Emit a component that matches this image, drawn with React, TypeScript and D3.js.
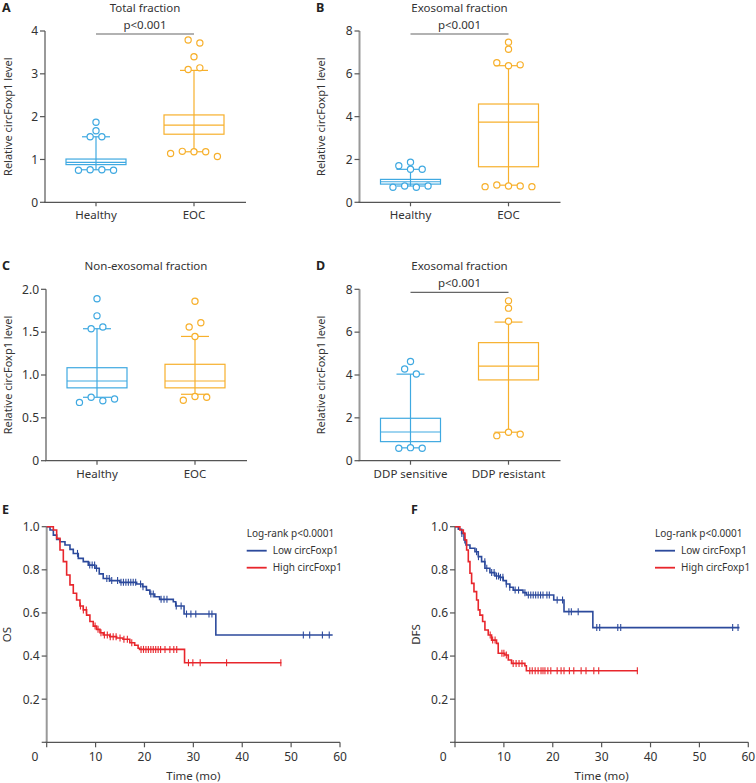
import React from 'react';
import * as d3 from 'd3';

const FONT = '"Noto Sans", "DejaVu Sans", sans-serif';
const BOX_BLUE = '#3fa9e1';
const BOX_ORANGE = '#f7b02c';
const KM_BLUE = '#2c4a9c';
const KM_RED = '#e8262c';
const TEXT = '#333333';
const AXIS_Y = '#999999';
const AXIS_X = '#555555';

// ---------- Box-plot panels (A-D) ----------
const panelTitles = ['Total fraction', 'Exosomal fraction', 'Non-exosomal fraction', 'Exosomal fraction'];
const panelLetters = ['A', 'B', 'C', 'D'];
const categoriesHealthy = ['Healthy', 'EOC'];
const categoriesDdp = ['DDP sensitive', 'DDP resistant'];
const pValueText = 'p<0.001';
const yAxisTitle = 'Relative circFoxp1 level';

const ticksAB = [0, 1, 2, 3, 4];
const ticksB = [0, 2, 4, 6, 8];
const ticksC = [0, 0.5, 1.0, 1.5, 2.0];

// box stats: [whiskerLow, q1, median, q3, whiskerHigh]
const totalHealthyBox = [0.76, 0.88, 0.93, 1.01, 1.53];
const totalEocBox = [1.18, 1.59, 1.80, 2.04, 3.08];
const totalHealthyPts = [1.87, 1.67, 1.53, 1.53, 0.75, 0.76, 0.76, 0.75];
const totalEocPts = [3.79, 3.72, 3.40, 3.10, 3.14, 1.14, 1.19, 1.18, 1.18, 1.07];

const exoHealthyBox = [0.76, 0.85, 0.96, 1.07, 1.54];
const exoEocBox = [0.80, 1.66, 3.74, 4.59, 6.38];
const exoHealthyPts = [1.87, 1.71, 1.54, 1.54, 0.70, 0.76, 0.70, 0.76];
const exoEocPts = [7.48, 7.15, 6.52, 6.38, 6.42, 0.73, 0.81, 0.76, 0.76, 0.73];

const nonHealthyBox = [0.74, 0.85, 0.93, 1.085, 1.54];
const nonEocBox = [0.775, 0.85, 0.93, 1.125, 1.45];
const nonHealthyPts = [1.89, 1.69, 1.54, 1.56, 0.68, 0.74, 0.70, 0.72];
const nonEocPts = [1.86, 1.56, 1.61, 1.45, 0.705, 0.75, 0.74];

const ddpSensBox = [0.60, 0.89, 1.34, 1.98, 4.04];
const ddpResBox = [1.33, 3.77, 4.41, 5.51, 6.47];
const ddpSensPts = [4.63, 4.28, 4.05, 0.58, 0.61, 0.58];
const ddpResPts = [7.46, 7.12, 6.51, 1.17, 1.33, 1.24];

// ---------- Kaplan-Meier panels (E-F) ----------
const kmLegendTitle = 'Log-rank p<0.0001';
const kmSeriesNames = ['Low circFoxp1', 'High circFoxp1'];
const kmXTicks = [10, 20, 30, 40, 50, 60];
const kmYTicks = [0.2, 0.4, 0.6, 0.8, 1.0];
const kmXTitle = 'Time (mo)';

const osLowT = [0, 0.68, 1.36, 2.04, 2.72, 3.74, 4.76, 5.44, 6.46, 7.48, 8.5, 9.86, 10.75, 11.56, 12.9, 14.97, 18.4, 19.6, 20.4, 21.1, 22.1, 23.1, 25.9, 26.4, 28.1, 34.6];
const osLowS = [1.0, 0.985, 0.961, 0.941, 0.93, 0.915, 0.895, 0.876, 0.853, 0.838, 0.822, 0.807, 0.781, 0.760, 0.750, 0.742, 0.734, 0.722, 0.706, 0.688, 0.675, 0.663, 0.652, 0.632, 0.595, 0.498];
const osLowEnd = 58.5;
const osLowCensor = [6.3, 8.8, 9.3, 9.8, 10.2, 12.3, 12.8, 13.3, 14.5, 15.2, 15.7, 16.2, 16.7, 17.2, 17.7, 18.2, 19.2, 19.7, 21.3, 21.8, 23.4, 24.0, 24.6, 26.5, 27.5, 28.6, 29.5, 30.5, 33.2, 33.8, 52.5, 53.8, 56.4, 57.8];

const osHighT = [0, 1.36, 2.04, 2.72, 3.40, 4.08, 4.76, 5.44, 6.12, 6.80, 7.48, 8.16, 8.84, 9.52, 10.2, 10.9, 11.56, 12.9, 14.3, 15.6, 17.0, 18.0, 18.7, 19.0, 28.2];
const osHighS = [1.0, 0.985, 0.946, 0.892, 0.838, 0.776, 0.730, 0.691, 0.660, 0.632, 0.614, 0.590, 0.560, 0.539, 0.524, 0.508, 0.498, 0.490, 0.484, 0.478, 0.462, 0.450, 0.436, 0.431, 0.369];
const osHighEnd = 48.0;
const osHighCensor = [6.9, 7.5, 8.1, 9.9, 10.5, 11.1, 11.8, 12.4, 13.0, 13.6, 14.2, 15.0, 15.8, 16.5, 17.4, 19.3, 19.8, 20.3, 20.8, 21.3, 21.8, 22.3, 22.8, 23.3, 24.2, 25.2, 26.0, 26.6, 29.0, 29.9, 31.4, 36.8, 47.9];

const dfsLowT = [0, 0.68, 1.36, 1.84, 2.24, 3.06, 4.08, 4.76, 5.44, 6.12, 7.14, 8.16, 9.18, 9.86, 10.5, 11.2, 11.9, 13.9, 14.6, 20.2, 22.3, 28.2];
const dfsLowS = [1.0, 0.988, 0.969, 0.938, 0.915, 0.900, 0.884, 0.861, 0.838, 0.807, 0.787, 0.771, 0.765, 0.750, 0.734, 0.719, 0.706, 0.694, 0.683, 0.660, 0.606, 0.532];
const dfsLowEnd = 58.2;
const dfsLowCensor = [1.4, 2.0, 4.4, 4.8, 6.1, 6.5, 7.5, 8.0, 8.5, 8.9, 9.3, 9.8, 10.5, 11.2, 12.3, 13.0, 14.3, 15.0, 15.5, 16.0, 16.5, 17.0, 17.5, 18.0, 18.8, 19.3, 20.9, 22.0, 23.3, 23.8, 25.2, 29.0, 29.6, 33.3, 33.9, 56.8, 57.9];

const dfsHighT = [0, 1.0, 1.7, 2.04, 2.38, 2.72, 3.06, 3.40, 3.88, 4.42, 4.76, 5.1, 5.65, 6.12, 6.8, 7.48, 8.5, 8.84, 10.2, 10.9, 11.56, 14.3, 14.6];
const dfsHighS = [1.0, 0.985, 0.969, 0.938, 0.892, 0.838, 0.784, 0.737, 0.699, 0.660, 0.614, 0.590, 0.560, 0.521, 0.498, 0.474, 0.459, 0.413, 0.405, 0.382, 0.366, 0.355, 0.332];
const dfsHighEnd = 37.4;
const dfsHighCensor = [7.2, 7.7, 8.2, 9.6, 10.0, 10.5, 11.9, 12.5, 13.1, 13.7, 15.3, 15.8, 16.4, 17.0, 17.6, 18.0, 18.4, 19.0, 19.6, 20.9, 21.7, 22.3, 23.4, 24.3, 25.8, 26.8, 28.4, 29.4, 37.3];

// ---------- helpers ----------
function pointOffsets(values: number[], y: (v: number) => number, spacing = 11.7, thresh = 5.5) {
  const idx = values.map((_, i) => i).sort((a, b) => values[a] - values[b]);
  const rows: number[][] = [];
  let cur: number[] = [];
  let start: number | null = null;
  for (const i of idx) {
    const py = y(values[i]);
    if (start === null || Math.abs(py - start) > thresh) {
      if (cur.length) rows.push(cur);
      cur = [i];
      start = py;
    } else cur.push(i);
  }
  if (cur.length) rows.push(cur);
  const off = new Array(values.length).fill(0);
  rows.forEach((r) => {
    const s = r.slice().sort((a, b) => a - b);
    s.forEach((i, k) => (off[i] = (k - (s.length - 1) / 2) * spacing));
  });
  return off;
}

type BoxPanelProps = {
  letter: string; title: string; categories: string[];
  boxes: number[][]; points: number[][];
  ticks: number[]; fmt: (v: number) => string;
  axisX: number; yTop: number; yBottom: number; letterX: number; titleX: number;
  showP: boolean;
};

function BoxPanel(p: BoxPanelProps) {
  const y = d3.scaleLinear().domain([0, p.ticks[p.ticks.length - 1]]).range([p.yBottom, p.yTop]);
  const x = d3.scalePoint<string>().domain(p.categories).range([p.axisX + 51, p.axisX + 149]);
  const colors = [BOX_BLUE, BOX_ORANGE];
  const cx = ((x(p.categories[0]) as number) + (x(p.categories[1]) as number)) / 2;
  const xEnd = p.axisX + 201;
  return (
    <g>
      <text x={p.letterX} y={p.yTop - 19} fontSize={12.5} fontWeight="bold" fill="#222">{p.letter}</text>
      <text x={cx} y={p.yTop - 19} fontSize={11.5} textAnchor="middle" fill={TEXT}>{p.title}</text>
      {p.showP && (
        <g>
          <text x={cx} y={p.yTop - 2} fontSize={11.5} textAnchor="middle" fill={TEXT}>{pValueText}</text>
          <line x1={x(p.categories[0])} x2={x(p.categories[1])} y1={p.yTop + 3} y2={p.yTop + 3} stroke="#666" strokeWidth={1.2} />
        </g>
      )}
      {/* y axis */}
      <line x1={p.axisX} x2={p.axisX} y1={p.yTop} y2={p.yBottom} stroke={AXIS_Y} strokeWidth={2} />
      {p.ticks.map((t) => (
        <g key={t}>
          <line x1={p.axisX - 5} x2={p.axisX} y1={y(t)} y2={y(t)} stroke={AXIS_X} strokeWidth={1.2} />
          <text x={p.axisX - 7} y={y(t)} dy="0.36em" fontSize={12} textAnchor="end" fill={TEXT}>{p.fmt(t)}</text>
        </g>
      ))}
      <text transform={`translate(${p.titleX},${(p.yTop + p.yBottom) / 2}) rotate(-90)`} fontSize={11} textAnchor="middle" dominantBaseline="central" fill={TEXT}>{yAxisTitle}</text>
      {/* x axis */}
      <line x1={p.axisX - 1} x2={xEnd} y1={p.yBottom} y2={p.yBottom} stroke={AXIS_X} strokeWidth={1.3} />
      {p.categories.map((c) => (
        <g key={c}>
          <line x1={x(c)} x2={x(c)} y1={p.yBottom} y2={p.yBottom + 4} stroke={AXIS_X} strokeWidth={1.2} />
          <text x={x(c)} y={p.yBottom + 17} fontSize={11.5} textAnchor="middle" fill={TEXT}>{c}</text>
        </g>
      ))}
      {/* boxes */}
      {p.categories.map((c, i) => {
        const [wl, q1, med, q3, wh] = p.boxes[i];
        const xc = x(c) as number;
        const col = colors[i];
        const offs = pointOffsets(p.points[i], (v) => y(v));
        return (
          <g key={c} stroke={col} strokeWidth={1.2} fill="none">
            <line x1={xc} x2={xc} y1={y(wl)} y2={y(wh)} />
            <line x1={xc - 14} x2={xc + 14} y1={y(wl)} y2={y(wl)} />
            <line x1={xc - 14} x2={xc + 14} y1={y(wh)} y2={y(wh)} />
            <rect x={xc - 30} y={y(q3)} width={60} height={y(q1) - y(q3)} />
            <line x1={xc - 30} x2={xc + 30} y1={y(med)} y2={y(med)} />
            {p.points[i].map((v, k) => (
              <circle key={k} cx={xc + offs[k]} cy={y(v)} r={3.1} fill="white" />
            ))}
          </g>
        );
      })}
    </g>
  );
}

type KmCurve = { t: number[]; s: number[]; end: number; censor: number[]; color: string };

function KmPanel({ letter, yLabel, axisX, curves, letterX }: { letter: string; yLabel: string; axisX: number; curves: KmCurve[]; letterX: number }) {
  const yTop = 526.7, yBottom = 742.3;
  const x = d3.scaleLinear().domain([0, 60]).range([axisX, axisX + 293.3]);
  const y = d3.scaleLinear().domain([0, 1]).range([yBottom, yTop]);
  const line = d3.line<[number, number]>().x((d) => x(d[0])).y((d) => y(d[1])).curve(d3.curveStepAfter);
  const legX = axisX + 200;
  return (
    <g>
      <text x={letterX} y={514} fontSize={12.5} fontWeight="bold" fill="#222">{letter}</text>
      {/* axes */}
      <line x1={axisX} x2={axisX} y1={yTop} y2={yBottom} stroke={AXIS_Y} strokeWidth={2} />
      {[0, ...kmYTicks].map((t) => (
        <line key={t} x1={axisX - 5} x2={axisX} y1={y(t)} y2={y(t)} stroke={AXIS_X} strokeWidth={1.2} />
      ))}
      {kmYTicks.map((t) => (
        <text key={t} x={axisX - 7} y={y(t)} dy="0.36em" fontSize={12} textAnchor="end" fill={TEXT}>{t.toFixed(1)}</text>
      ))}
      <line x1={axisX - 1} x2={x(60)} y1={yBottom} y2={yBottom} stroke={AXIS_X} strokeWidth={1.3} />
      {[0, ...kmXTicks].map((t) => (
        <line key={t} x1={x(t)} x2={x(t)} y1={yBottom} y2={yBottom + 5} stroke={AXIS_X} strokeWidth={1.2} />
      ))}
      <text x={axisX - 11.7} y={yBottom + 19} fontSize={12} textAnchor="middle" fill={TEXT}>0</text>
      {kmXTicks.map((t) => (
        <text key={t} x={x(t)} y={yBottom + 19} fontSize={12} textAnchor="middle" fill={TEXT}>{t}</text>
      ))}
      <text x={x(30)} y={779.5} fontSize={11.5} textAnchor="middle" fill={TEXT}>{kmXTitle}</text>
      <text transform={`translate(${axisX - 40},${(yTop + yBottom) / 2}) rotate(-90)`} fontSize={11.5} textAnchor="middle" dominantBaseline="central" fill={TEXT}>{yLabel}</text>
      {/* curves */}
      {curves.map((c, ci) => {
        const pts: [number, number][] = c.t.map((t, i) => [t, c.s[i]] as [number, number]);
        pts.push([c.end, c.s[c.s.length - 1]]);
        const survAt = (tt: number) => {
          let v = c.s[0];
          for (let i = 0; i < c.t.length; i++) if (c.t[i] <= tt) v = c.s[i];
          return v;
        };
        return (
          <g key={ci}>
            <path d={line(pts) || ''} fill="none" stroke={c.color} strokeWidth={1.6} />
            {c.censor.map((ct, k) => (
              <line key={k} x1={x(ct)} x2={x(ct)} y1={y(survAt(ct)) - 3.5} y2={y(survAt(ct)) + 3.5} stroke={c.color} strokeWidth={1.1} />
            ))}
          </g>
        );
      })}
      {/* legend */}
      <text x={legX} y={533.5} dy="0.35em" fontSize={10} fill={TEXT}>{kmLegendTitle}</text>
      {curves.map((c, i) => (
        <g key={i}>
          <line x1={legX} x2={legX + 20} y1={550.7 + i * 17} y2={550.7 + i * 17} stroke={c.color} strokeWidth={1.8} />
          <text x={legX + 26} y={550.7 + i * 17} dy="0.35em" fontSize={10} fill={TEXT}>{kmSeriesNames[i]}</text>
        </g>
      ))}
    </g>
  );
}

export default function App() {
  const fmtInt = (v: number) => String(v);
  const fmtC = (v: number) => (v === 0 ? '0' : v.toFixed(1));
  return (
    <svg width={756} height={783} style={{ position: 'absolute', left: 0, top: 0, background: 'white' }} fontFamily={FONT}>
      <rect width={756} height={783} fill="white" />
      <BoxPanel letter={panelLetters[0]} title={panelTitles[0]} categories={categoriesHealthy}
        boxes={[totalHealthyBox, totalEocBox]} points={[totalHealthyPts, totalEocPts]}
        ticks={ticksAB} fmt={fmtInt} axisX={45} yTop={31} yBottom={202.3} letterX={2} titleX={7.5} showP={true} />
      <BoxPanel letter={panelLetters[1]} title={panelTitles[1]} categories={categoriesHealthy}
        boxes={[exoHealthyBox, exoEocBox]} points={[exoHealthyPts, exoEocPts]}
        ticks={ticksB} fmt={fmtInt} axisX={359.5} yTop={31} yBottom={202.3} letterX={316} titleX={320} showP={true} />
      <BoxPanel letter={panelLetters[2]} title={panelTitles[2]} categories={categoriesHealthy}
        boxes={[nonHealthyBox, nonEocBox]} points={[nonHealthyPts, nonEocPts]}
        ticks={ticksC} fmt={fmtC} axisX={46} yTop={289.3} yBottom={460.7} letterX={2} titleX={7} showP={false} />
      <BoxPanel letter={panelLetters[3]} title={panelTitles[3]} categories={categoriesDdp}
        boxes={[ddpSensBox, ddpResBox]} points={[ddpSensPts, ddpResPts]}
        ticks={ticksB} fmt={fmtInt} axisX={359.5} yTop={289.3} yBottom={460.7} letterX={316} titleX={320} showP={true} />
      <KmPanel letter="E" yLabel="OS" axisX={46.7} letterX={2} curves={[
        { t: osLowT, s: osLowS, end: osLowEnd, censor: osLowCensor, color: KM_BLUE },
        { t: osHighT, s: osHighS, end: osHighEnd, censor: osHighCensor, color: KM_RED },
      ]} />
      <KmPanel letter="F" yLabel="DFS" axisX={455} letterX={411} curves={[
        { t: dfsLowT, s: dfsLowS, end: dfsLowEnd, censor: dfsLowCensor, color: KM_BLUE },
        { t: dfsHighT, s: dfsHighS, end: dfsHighEnd, censor: dfsHighCensor, color: KM_RED },
      ]} />
    </svg>
  );
}
